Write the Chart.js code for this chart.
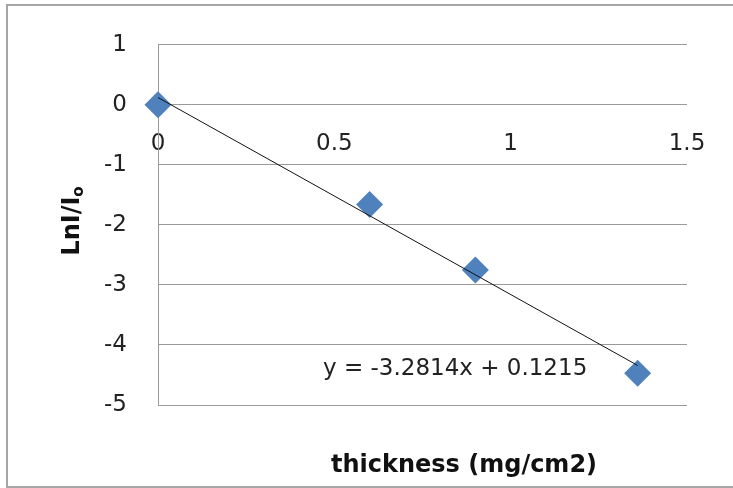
<!DOCTYPE html>
<html>
<head>
<meta charset="utf-8">
<script src="https://cdn.jsdelivr.net/npm/chart.js@4"></script>
<style>
    body { margin: 0; background: #fff; }
    #wrap { position: relative; width: 733px; height: 488px; }
</style>
</head>
<body>
<div id="wrap"><canvas id="absChart"></canvas></div>
<script>
// Data
const thickness = [0, 0.6, 0.9, 1.36];
const lnRatio = [0, -1.66, -2.75, -4.47];
const xTicks = [0, 0.5, 1, 1.5];
const yTicks = [1, 0, -1, -2, -3, -4, -5];
// Excel linear trendline coefficients
const slope = -3.2814;
const intercept = 0.1215;

const FONT = "'DejaVu Sans', sans-serif";
const gridGray = '#9a9a9a';

// trendline spans the data range
const xMin = Math.min(...thickness);
const xMax = Math.max(...thickness);
const trend = [xMin, xMax].map(function(x) {
    return { x: x, y: slope * x + intercept };
});

const points = thickness.map(function(x, i) {
    return { x: x, y: lnRatio[i] };
});

// Frame, axis titles and equation label
const textPlugin = {
    id: 'texts',
    beforeDraw: function(chart) {
        const ctx = chart.ctx;
        ctx.save();
        ctx.strokeStyle = '#a6a6a6';
        ctx.lineWidth = 2;
        ctx.beginPath();
        ctx.moveTo(740, 5);
        ctx.lineTo(7, 5);
        ctx.lineTo(7, 487);
        ctx.lineTo(740, 487);
        ctx.stroke();
        ctx.restore();
    },
    afterDraw: function(chart) {
        const ctx = chart.ctx;
        ctx.save();
        ctx.fillStyle = '#111';

        // x axis title
        ctx.font = "bold 24px " + FONT;
        ctx.textAlign = 'center';
        ctx.textBaseline = 'middle';
        ctx.fillText('thickness (mg/cm2)', 464, 466);

        // y axis title with subscript o
        const main = 'LnI/I';
        ctx.font = "bold 24px " + FONT;
        const wMain = ctx.measureText(main).width;
        ctx.font = "bold 15px " + FONT;
        const wSub = ctx.measureText('o').width;
        const total = wMain + wSub;
        ctx.translate(79, 221 + total / 2);
        ctx.rotate(-Math.PI / 2);
        ctx.textAlign = 'left';
        ctx.textBaseline = 'alphabetic';
        ctx.font = "bold 24px " + FONT;
        ctx.fillText(main, 0, 0);
        ctx.font = "bold 15px " + FONT;
        ctx.fillText('o', wMain, 4);
        ctx.restore();

        // trendline equation
        ctx.save();
        ctx.fillStyle = '#222';
        ctx.font = "23px " + FONT;
        ctx.textAlign = 'left';
        ctx.textBaseline = 'middle';
        ctx.fillText('y = ' + slope + 'x + ' + intercept, 323, 369);
        ctx.restore();
    }
};

function plainLabel(value) {
    return String(value);
}

const ctx = document.getElementById('absChart').getContext('2d');
const absChart = new Chart(ctx, {
    type: 'scatter',
    data: {
        datasets: [{
            label: 'LnI/Io',
            data: points,
            pointStyle: 'rectRot',
            pointRadius: 13.5,
            pointHoverRadius: 13.5,
            backgroundColor: '#4F81BD',
            borderColor: '#4F81BD',
            borderWidth: 0,
            clip: false,
            order: 1
        }, {
            type: 'line',
            label: 'Linear',
            data: trend,
            borderColor: '#111',
            borderWidth: 1,
            pointRadius: 0,
            fill: false,
            clip: false,
            order: 0
        }]
    },
    options: {
        responsive: true,
        maintainAspectRatio: false,
        animation: false,
        layout: {
            padding: { left: 0, right: 46, top: 42, bottom: 83 }
        },
        plugins: {
            legend: { display: false },
            tooltip: { enabled: false }
        },
        scales: {
            x: {
                type: 'linear',
                position: { y: 0 },
                min: xTicks[0],
                max: xTicks[xTicks.length - 1],
                afterBuildTicks: function(scale) {
                    scale.ticks = xTicks.map(function(v) { return { value: v }; });
                },
                afterFit: function(scale) {
                    scale.height = 0;
                },
                grid: { display: false, drawTicks: false },
                border: { display: false },
                ticks: {
                    padding: 25,
                    maxRotation: 0,
                    color: '#222',
                    font: { family: FONT, size: 23 },
                    callback: plainLabel
                }
            },
            y: {
                type: 'linear',
                min: yTicks[yTicks.length - 1],
                max: yTicks[0],
                afterBuildTicks: function(scale) {
                    scale.ticks = yTicks.map(function(v) { return { value: v }; });
                },
                afterFit: function(scale) {
                    scale.width = 158;
                },
                grid: { color: gridGray, lineWidth: 1, drawTicks: false },
                border: { display: true, color: gridGray, width: 1 },
                ticks: {
                    padding: 31,
                    color: '#222',
                    font: { family: FONT, size: 23 },
                    callback: plainLabel
                }
            }
        }
    },
    plugins: [textPlugin]
});
</script>
</body>
</html>
